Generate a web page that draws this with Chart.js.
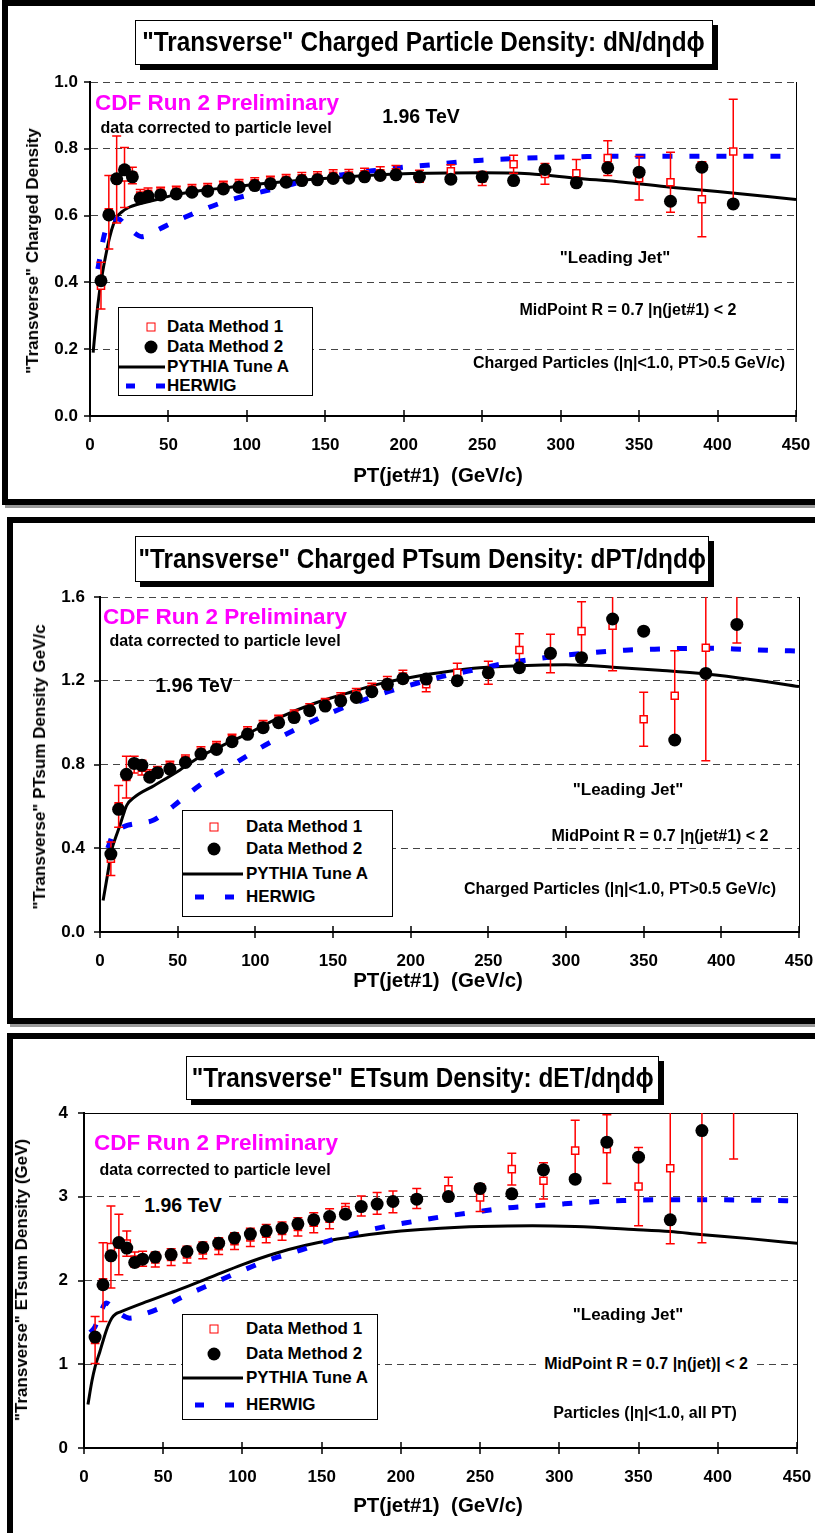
<!DOCTYPE html>
<html>
<head>
<meta charset="utf-8">
<script src="https://cdn.jsdelivr.net/npm/chart.js@4.4.1/dist/chart.umd.min.js"></script>
<style>
  body { margin: 0; width: 815px; height: 1533px; overflow: hidden; background: #fff; position: relative;
         font-family: "Liberation Sans", Arial, sans-serif; font-weight: bold; color: #000; }
  .frame { position: absolute; border: 6px solid #000; box-sizing: border-box; box-shadow: 3px 3px 0 #999; }
  .ttl { position: absolute; background: #fff; border: 1.5px solid #000; box-shadow: 5px 5px 0 #000; box-sizing: border-box;
         font-size: 27px; display: flex; align-items: center; justify-content: center; white-space: nowrap; z-index: 3; }
  .ttl span { display: inline-block; transform: scaleX(0.9); }
  canvas { position: absolute; left: 0; z-index: 1; }
  .txt { position: absolute; white-space: nowrap; transform: translate(-50%, -50%); z-index: 2; }
  .ytl { position: absolute; white-space: nowrap; transform: translate(-50%, -50%) rotate(-90deg); z-index: 2; font-size: 17px; }
  .cdf { color: #ff00ff; font-size: 22.5px; }
  .sm { font-size: 16px; }
  .lj { font-size: 17px; }
  .tev { font-size: 19.5px; }
  .xt { font-size: 20.5px; }
  .lg { position: absolute; background: #fff; border: 1.5px solid #000; box-sizing: border-box; z-index: 2; font-size: 17px; }
  .lg .row { position: absolute; left: 0; right: 0; height: 20px; transform: translateY(-50%); }
  .lg .lab { position: absolute; top: 50%; transform: translateY(-50%); white-space: nowrap; }
  .sq { position: absolute; width: 7px; height: 7px; border: 1.5px solid #f00; background: #fff; top: 50%; transform: translate(-50%, -50%); }
  .dot { position: absolute; width: 13px; height: 13px; border-radius: 50%; background: #000; top: 50%; transform: translate(-50%, -50%); }
  .ln { position: absolute; height: 3px; background: #000; top: 50%; transform: translateY(-50%); }
  .ds { position: absolute; width: 9px; height: 5px; background: #00f; top: 50%; transform: translateY(-50%); }
</style>
</head>
<body>

<!-- panel frames -->
<div class="frame" style="left:2px; top:0; width:900px; height:505px;"></div>
<div class="frame" style="left:7px; top:517px; width:900px; height:507px;"></div>
<div class="frame" style="left:7px; top:1033px; width:900px; height:600px;"></div>

<div class="ttl" style="left:135px; top:20px; width:578px; height:45px;"><span>"Transverse" Charged Particle Density: dN/dηdϕ</span></div>
<div class="ttl" style="left:135px; top:536px; width:574px; height:46px;"><span>"Transverse" Charged PTsum Density: dPT/dηdϕ</span></div>
<div class="ttl" style="left:186px; top:1056px; width:473px; height:44px;"><span>"Transverse" ETsum Density: dET/dηdϕ</span></div>

<canvas id="c1" width="815" height="500" style="top:0;"></canvas>
<canvas id="c2" width="815" height="500" style="top:517px;"></canvas>
<canvas id="c3" width="815" height="500" style="top:1033px;"></canvas>

<!-- panel 1 labels -->
<div class="txt cdf" style="left:217px; top:103px;">CDF Run 2 Preliminary</div>
<div class="txt sm" style="left:216px; top:128px;">data corrected to particle level</div>
<div class="txt tev" style="left:421px; top:116px;">1.96 TeV</div>
<div class="txt lj" style="left:615px; top:258px;">"Leading Jet"</div>
<div class="txt sm" style="left:628px; top:310px;">MidPoint R = 0.7 |η(jet#1) &lt; 2</div>
<div class="txt sm" style="left:629px; top:363px;">Charged Particles (|η|&lt;1.0, PT&gt;0.5 GeV/c)</div>
<div class="txt xt" style="left:438px; top:475px;">PT(jet#1)&nbsp;&nbsp;(GeV/c)</div>
<div class="ytl" style="left:33px; top:251px;">"Transverse" Charged Density</div>
<div class="lg" style="left:118px; top:307px; width:195px; height:89px;">
  <div class="row" style="top:19px;"><span class="sq" style="left:32px;"></span><span class="lab" style="left:48px;">Data Method 1</span></div>
  <div class="row" style="top:39px;"><span class="dot" style="left:32px;"></span><span class="lab" style="left:48px;">Data Method 2</span></div>
  <div class="row" style="top:59px;"><span class="ln" style="left:0; width:46px;"></span><span class="lab" style="left:48px;">PYTHIA Tune A</span></div>
  <div class="row" style="top:78px;"><span class="ds" style="left:7px;"></span><span class="ds" style="left:37px;"></span><span class="lab" style="left:48px;">HERWIG</span></div>
</div>

<!-- panel 2 labels -->
<div class="txt cdf" style="left:225px; top:617px;">CDF Run 2 Preliminary</div>
<div class="txt sm" style="left:225px; top:641px;">data corrected to particle level</div>
<div class="txt tev" style="left:194px; top:685px;">1.96 TeV</div>
<div class="txt lj" style="left:628px; top:790px;">"Leading Jet"</div>
<div class="txt sm" style="left:660px; top:836px;">MidPoint R = 0.7 |η(jet#1) &lt; 2</div>
<div class="txt sm" style="left:620px; top:889px;">Charged Particles (|η|&lt;1.0, PT&gt;0.5 GeV/c)</div>
<div class="txt xt" style="left:438px; top:980px;">PT(jet#1)&nbsp;&nbsp;(GeV/c)</div>
<div class="ytl" style="left:40px; top:767px;">"Transverse" PTsum Density GeV/c</div>
<div class="lg" style="left:182px; top:810px; width:211px; height:107px;">
  <div class="row" style="top:16px;"><span class="sq" style="left:31px;"></span><span class="lab" style="left:63px;">Data Method 1</span></div>
  <div class="row" style="top:38px;"><span class="dot" style="left:31px;"></span><span class="lab" style="left:63px;">Data Method 2</span></div>
  <div class="row" style="top:63px;"><span class="ln" style="left:0; width:60px;"></span><span class="lab" style="left:63px;">PYTHIA Tune A</span></div>
  <div class="row" style="top:86px;"><span class="ds" style="left:12px;"></span><span class="ds" style="left:42px;"></span><span class="lab" style="left:63px;">HERWIG</span></div>
</div>

<!-- panel 3 labels -->
<div class="txt cdf" style="left:216px; top:1143px;">CDF Run 2 Preliminary</div>
<div class="txt sm" style="left:215px; top:1170px;">data corrected to particle level</div>
<div class="txt tev" style="left:183px; top:1205px; background:#fff; padding:0 4px;">1.96 TeV</div>
<div class="txt lj" style="left:628px; top:1315px;">"Leading Jet"</div>
<div class="txt sm" style="left:646px; top:1364px; background:#fff; padding:0 6px;">MidPoint R = 0.7 |η(jet)| &lt; 2</div>
<div class="txt sm" style="left:645px; top:1413px;">Particles (|η|&lt;1.0, all PT)</div>
<div class="txt xt" style="left:438px; top:1505px;">PT(jet#1)&nbsp;&nbsp;(GeV/c)</div>
<div class="ytl" style="left:22px; top:1280px;">"Transverse" ETsum Density (GeV)</div>
<div class="lg" style="left:182px; top:1314px; width:196px; height:106px;">
  <div class="row" style="top:14px;"><span class="sq" style="left:31px;"></span><span class="lab" style="left:63px;">Data Method 1</span></div>
  <div class="row" style="top:39px;"><span class="dot" style="left:31px;"></span><span class="lab" style="left:63px;">Data Method 2</span></div>
  <div class="row" style="top:63px;"><span class="ln" style="left:0; width:60px;"></span><span class="lab" style="left:63px;">PYTHIA Tune A</span></div>
  <div class="row" style="top:90px;"><span class="ds" style="left:12px;"></span><span class="ds" style="left:42px;"></span><span class="lab" style="left:63px;">HERWIG</span></div>
</div>

<script>
// leading-jet PT bin centres (GeV/c)
const ptBins = [7, 12, 17, 22, 27, 32, 37, 45, 55, 65, 75, 85, 95, 105, 115, 125, 135, 145, 155, 165,
                175, 185, 195, 210, 230, 250, 270, 290, 310, 330, 350, 370, 390, 410];

// charged particle density dN/dηdφ
const nchM1 = [0.39, 0.61, 0.708, 0.714, 0.72, 0.66, 0.665, 0.669, 0.672, 0.677, 0.68, 0.687, 0.692, 0.697, 0.702, 0.707, 0.712,
               0.714, 0.719, 0.72, 0.724, 0.727, 0.73, 0.718, 0.733, 0.711, 0.754, 0.725, 0.727, 0.772, 0.712, 0.70, 0.649, 0.792];
const nchM1Err = [0.07, 0.11, 0.13, 0.09, 0.025, 0.018, 0.018, 0.016, 0.016, 0.016, 0.016, 0.016, 0.016, 0.016, 0.016, 0.016, 0.017,
                  0.017, 0.018, 0.018, 0.018, 0.019, 0.02, 0.018, 0.019, 0.021, 0.027, 0.031, 0.041, 0.052, 0.065, 0.09, 0.112, 0.156];
const nchM2 = [0.405, 0.602, 0.71, 0.737, 0.716, 0.652, 0.658, 0.662, 0.665, 0.67, 0.673, 0.68, 0.685, 0.69, 0.695, 0.70, 0.705,
               0.707, 0.711, 0.712, 0.716, 0.72, 0.722, 0.716, 0.709, 0.716, 0.705, 0.738, 0.698, 0.743, 0.73, 0.643, 0.745, 0.635];
const nchPythiaPt = [2, 4, 6, 8, 10, 12.5, 15, 17, 20, 25, 40, 57, 80, 120, 160, 200, 250, 280, 310, 340, 370, 400, 450];
const nchPythia = [0.19, 0.29, 0.37, 0.43, 0.48, 0.535, 0.575, 0.595, 0.61, 0.625, 0.645, 0.665, 0.68, 0.70, 0.715, 0.725, 0.728,
                   0.725, 0.712, 0.70, 0.685, 0.672, 0.648];
const nchHerwigPt = [5, 6.4, 8.5, 10.6, 14, 18, 22, 27, 33, 42, 51, 68, 86, 104, 123, 142, 160, 180, 198, 217, 236, 250, 268,
                     290, 310, 330, 360, 400, 450];
const nchHerwig = [0.44, 0.476, 0.53, 0.565, 0.59, 0.59, 0.575, 0.553, 0.537, 0.555, 0.575, 0.61, 0.642, 0.665, 0.687, 0.709,
                   0.722, 0.734, 0.744, 0.752, 0.761, 0.766, 0.77, 0.774, 0.776, 0.778, 0.778, 0.778, 0.778];

// charged PTsum density dPT/dηdφ (GeV/c)
const ptsM1 = [0.35, 0.60, 0.74, 0.80, 0.785, 0.75, 0.765, 0.79, 0.82, 0.86, 0.885, 0.92, 0.955, 0.985, 1.01, 1.035, 1.065, 1.09,
               1.115, 1.135, 1.16, 1.19, 1.22, 1.184, 1.238, 1.238, 1.347, 1.33, 1.437, 1.463, 1.016, 1.128, 1.358, 1.65];
const ptsM1Err = [0.08, 0.10, 0.10, 0.04, 0.035, 0.025, 0.025, 0.025, 0.025, 0.025, 0.025, 0.025, 0.025, 0.025, 0.025, 0.025, 0.025,
                  0.025, 0.028, 0.028, 0.028, 0.03, 0.03, 0.036, 0.046, 0.055, 0.078, 0.092, 0.14, 0.215, 0.129, 0.215, 0.54, 0.27];
const ptsM2 = [0.372, 0.586, 0.753, 0.805, 0.796, 0.739, 0.761, 0.778, 0.81, 0.85, 0.872, 0.909, 0.944, 0.976, 1.0, 1.024, 1.057,
               1.079, 1.104, 1.12, 1.148, 1.183, 1.21, 1.208, 1.20, 1.238, 1.262, 1.331, 1.31, 1.495, 1.437, 0.917, 1.235, 1.469];
const ptsPythiaPt = [2, 5, 7.5, 10, 12.4, 15, 17.2, 22, 35, 51.5, 64.4, 80, 94.4, 115.8, 137.3, 158.8, 180, 201.6, 225, 244.5,
                     270, 300, 330, 360, 390, 420, 450];
const ptsPythia = [0.15, 0.28, 0.39, 0.45, 0.50, 0.56, 0.605, 0.643, 0.70, 0.774, 0.837, 0.895, 0.945, 1.025, 1.09, 1.14, 1.185,
                   1.218, 1.245, 1.262, 1.272, 1.276, 1.265, 1.25, 1.232, 1.205, 1.172];
const ptsHerwigPt = [5, 8.6, 12, 18, 25, 33, 40, 47, 64, 81.5, 97.6, 113.7, 130.8, 149, 166, 185.5, 204, 223, 240, 262, 281, 299,
                     318, 338, 357, 376, 396, 414, 433, 450];
const ptsHerwig = [0.40, 0.47, 0.49, 0.51, 0.52, 0.53, 0.56, 0.60, 0.70, 0.78, 0.855, 0.922, 0.985, 1.048, 1.098, 1.148, 1.188,
                   1.225, 1.25, 1.285, 1.305, 1.322, 1.335, 1.346, 1.351, 1.354, 1.355, 1.35, 1.345, 1.342];

// ETsum density dET/dηdφ (GeV)
const etsM1 = [1.29, 1.98, 2.40, 2.43, 2.44, 2.25, 2.26, 2.25, 2.28, 2.31, 2.36, 2.41, 2.47, 2.515, 2.56, 2.59, 2.64, 2.69, 2.737,
               2.84, 2.89, 2.92, 2.94, 2.98, 3.09, 2.99, 3.33, 3.19, 3.551, 3.568, 3.122, 3.341, 4.15, 4.30];
const etsM1Err = [0.28, 0.47, 0.49, 0.36, 0.15, 0.09, 0.09, 0.09, 0.10, 0.10, 0.10, 0.10, 0.10, 0.11, 0.11, 0.11, 0.11, 0.12, 0.12,
                  0.08, 0.12, 0.13, 0.13, 0.12, 0.143, 0.166, 0.19, 0.217, 0.362, 0.41, 0.467, 0.903, 1.70, 0.85];
const etsM2 = [1.325, 1.949, 2.295, 2.453, 2.387, 2.215, 2.255, 2.28, 2.31, 2.346, 2.394, 2.446, 2.506, 2.554, 2.593, 2.625, 2.677,
               2.724, 2.764, 2.792, 2.883, 2.912, 2.943, 2.971, 3.002, 3.10, 3.035, 3.321, 3.21, 3.652, 3.472, 2.724, 3.79, 4.25];
const etsPythiaPt = [2.5, 5, 7, 10, 12.2, 15, 17.5, 20, 23, 40, 60, 80, 100, 120, 140, 160, 180, 200, 225, 250, 283, 310, 347,
                     370, 389, 420, 452];
const etsPythia = [0.52, 0.8, 0.97, 1.15, 1.29, 1.45, 1.55, 1.6, 1.625, 1.75, 1.89, 2.04, 2.19, 2.32, 2.42, 2.495, 2.55, 2.59,
                   2.625, 2.645, 2.655, 2.645, 2.61, 2.585, 2.55, 2.50, 2.44];
const etsHerwigPt = [4, 7, 10, 14, 18, 23, 29, 38, 48, 65, 82, 98.5, 117, 134, 153, 172, 190, 208, 227, 246, 265, 284, 303, 322,
                     340, 360, 400, 430, 450];
const etsHerwig = [1.38, 1.45, 1.6, 1.73, 1.68, 1.6, 1.55, 1.6, 1.67, 1.83, 1.97, 2.107, 2.247, 2.346, 2.465, 2.566, 2.644, 2.704,
                   2.764, 2.815, 2.864, 2.891, 2.915, 2.939, 2.955, 2.963, 2.963, 2.957, 2.951];

const toXY = (xs, ys) => xs.map((x, i) => ({ x: x, y: ys[i] }));

// red error bars for the Method 1 points, drawn just before their squares
const errorBars = {
  id: 'errorBars',
  beforeDatasetDraw(chart, args) {
    const ds = chart.data.datasets[args.index];
    if (!ds.errors) return;
    const { ctx, chartArea: a, scales: { x, y } } = chart;
    ctx.save();
    ctx.beginPath();
    ctx.rect(a.left, a.top, a.right - a.left, a.bottom - a.top);
    ctx.clip();
    ctx.strokeStyle = '#ff0000';
    ctx.lineWidth = 1.5;
    ds.data.forEach((p, i) => {
      const e = ds.errors[i];
      const px = x.getPixelForValue(p.x);
      const hi = y.getPixelForValue(p.y + e);
      const lo = y.getPixelForValue(p.y - e);
      ctx.beginPath();
      ctx.moveTo(px, hi); ctx.lineTo(px, lo);
      ctx.moveTo(px - 4.5, hi); ctx.lineTo(px + 4.5, hi);
      ctx.moveTo(px - 4.5, lo); ctx.lineTo(px + 4.5, lo);
      ctx.stroke();
    });
    ctx.restore();
  }
};

// frame edge and the tick marks crossing the axes
const axisMarks = {
  id: 'axisMarks',
  beforeDatasetsDraw(chart, args, opts) {
    const { ctx, chartArea: a, scales: { x, y } } = chart;
    ctx.save();
    ctx.strokeStyle = '#000';
    ctx.lineWidth = 1;
    ctx.beginPath();
    ctx.moveTo(a.right + 0.5, a.top);
    ctx.lineTo(a.right + 0.5, a.bottom);
    if (opts.solidTop) {
      ctx.moveTo(a.left, a.top + 0.5);
      ctx.lineTo(a.right + 1, a.top + 0.5);
    }
    ctx.stroke();
    ctx.lineWidth = 1.5;
    ctx.beginPath();
    x.ticks.forEach(t => {
      const px = Math.round(x.getPixelForValue(t.value));
      ctx.moveTo(px, a.bottom - 6);
      ctx.lineTo(px, a.bottom + 6);
    });
    y.ticks.forEach(t => {
      const py = Math.round(y.getPixelForValue(t.value));
      ctx.moveTo(a.left - 6, py);
      ctx.lineTo(a.left, py);
    });
    ctx.stroke();
    ctx.restore();
  }
};

const tickFont = { family: 'Liberation Sans', weight: 'bold', size: 17 };

function makePanel(id, p) {
  return new Chart(document.getElementById(id), {
    type: 'line',
    data: {
      datasets: [
        { label: 'Data Method 2', data: toXY(ptBins, p.m2), showLine: false, order: 0,
          pointStyle: 'circle', pointRadius: 6.5, pointBackgroundColor: '#000', pointBorderColor: '#000', pointBorderWidth: 0 },
        { label: 'Data Method 1', data: toXY(ptBins, p.m1), errors: p.m1Err, showLine: false, order: 1,
          pointStyle: 'rect', pointRadius: 5, pointBackgroundColor: '#fff', pointBorderColor: '#ff0000', pointBorderWidth: 1.5 },
        { label: 'HERWIG', data: toXY(p.herwigPt, p.herwig), order: 2, borderColor: '#0000ff', borderWidth: 5,
          borderDash: [10, 17], pointRadius: 0, cubicInterpolationMode: 'monotone', fill: false },
        { label: 'PYTHIA Tune A', data: toXY(p.pythiaPt, p.pythia), order: 3, borderColor: '#000', borderWidth: 3,
          pointRadius: 0, cubicInterpolationMode: 'monotone', fill: false }
      ]
    },
    options: {
      responsive: false,
      animation: false,
      events: [],
      layout: { padding: { left: 0, top: p.top, right: p.right, bottom: 0 } },
      plugins: { legend: { display: false }, tooltip: { enabled: false }, axisMarks: { solidTop: p.solidTop } },
      scales: {
        x: {
          type: 'linear', min: 0, max: 450,
          afterFit: s => { s.height = p.xh; s.paddingLeft = 0; s.paddingRight = 0; },
          ticks: { stepSize: 50, padding: 19, color: '#000', font: tickFont, maxRotation: 0 },
          grid: { drawOnChartArea: false, drawTicks: false },
          border: { color: '#000', width: 2 }
        },
        y: {
          min: 0, max: p.ymax,
          afterFit: s => { s.width = p.yw; s.paddingTop = 0; s.paddingBottom = 0; },
          ticks: { stepSize: p.step, padding: p.ypad, color: '#000', font: tickFont,
                   callback: v => p.step < 1 ? v.toFixed(1) : String(v) },
          grid: { drawTicks: false, lineWidth: 1,
                  color: c => (c.tick.value === 0 || (p.solidTop && c.tick.value === p.ymax)) ? 'rgba(0,0,0,0)' : '#444' },
          border: { color: '#000', width: 2, dash: [7, 5] }
        }
      }
    },
    plugins: [errorBars, axisMarks]
  });
}

makePanel('c1', { m1: nchM1, m1Err: nchM1Err, m2: nchM2, pythiaPt: nchPythiaPt, pythia: nchPythia,
  herwigPt: nchHerwigPt, herwig: nchHerwig, ymax: 1, step: 0.2, top: 82, right: 19, xh: 84, yw: 90, ypad: 12, solidTop: false });
makePanel('c2', { m1: ptsM1, m1Err: ptsM1Err, m2: ptsM2, pythiaPt: ptsPythiaPt, pythia: ptsPythia,
  herwigPt: ptsHerwigPt, herwig: ptsHerwig, ymax: 1.6, step: 0.4, top: 80, right: 16, xh: 85, yw: 100, ypad: 15, solidTop: false });
makePanel('c3', { m1: etsM1, m1Err: etsM1Err, m2: etsM2, pythiaPt: etsPythiaPt, pythia: etsPythia,
  herwigPt: etsHerwigPt, herwig: etsHerwig, ymax: 4, step: 1, top: 80, right: 18, xh: 85, yw: 84, ypad: 16, solidTop: true });
</script>
</body>
</html>
